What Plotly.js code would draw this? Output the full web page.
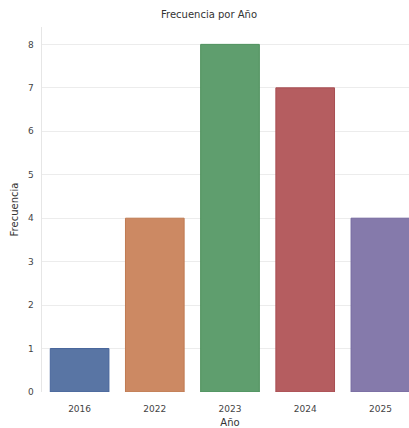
<!DOCTYPE html>
<html><head><meta charset="utf-8">
<script src="https://cdn.plot.ly/plotly-3.0.1.min.js"></script>
<style>html,body{margin:0;padding:0;overflow:hidden;background:#fff;width:409px;height:428px}</style>
</head><body><div id="chart" style="width:418px;height:428px"></div>
<script>
const years = ["2016", "2022", "2023", "2024", "2025"];
const counts = [1, 4, 8, 7, 4];
const fillColors = ["#5975a4", "#cc8963", "#5f9e6e", "#b55d60", "#857aab"];
const edgeColors = ["#46649a", "#bf7a52", "#4c905c", "#a84e52", "#74699f"];
const yTicks = [0, 1, 2, 3, 4, 5, 6, 7, 8];

Plotly.newPlot('chart', [{
  type: 'bar',
  x: years,
  y: counts,
  width: 0.78,
  marker: {color: fillColors, line: {color: edgeColors, width: 1}},
  hoverinfo: 'none'
}], {
  width: 418, height: 428,
  margin: {l: 42, r: 0, t: 27, b: 36},
  paper_bgcolor: '#fff', plot_bgcolor: '#fff',
  font: {family: 'DejaVu Sans, sans-serif', size: 9, color: '#444'},
  title: {text: 'Frecuencia por Año', x: 0.5, xanchor: 'center', y: 0.965, yanchor: 'middle', font: {size: 10, color: '#333'}},
  xaxis: {
    type: 'category', range: [-0.5, 4.5],
    showgrid: false, zeroline: false,
    showline: false, ticks: 'outside', ticklen: 8, tickcolor: 'rgba(0,0,0,0)',
    tickfont: {size: 9, color: '#444'},
    title: {text: 'Año', standoff: 6, font: {size: 10, color: '#333'}}
  },
  yaxis: {
    range: [0, 8.4], tickvals: yTicks,
    showgrid: true, gridcolor: '#ececec', gridwidth: 1,
    zeroline: false, showline: true, linecolor: '#e6e6e6', linewidth: 1.5,
    ticks: 'outside', ticklen: 5, tickcolor: 'rgba(0,0,0,0)',
    tickfont: {size: 9, color: '#444'},
    title: {text: 'Frecuencia', standoff: 7, font: {size: 10, color: '#333'}}
  },
  showlegend: false
}, {displayModeBar: false, staticPlot: true});
</script></body></html>
